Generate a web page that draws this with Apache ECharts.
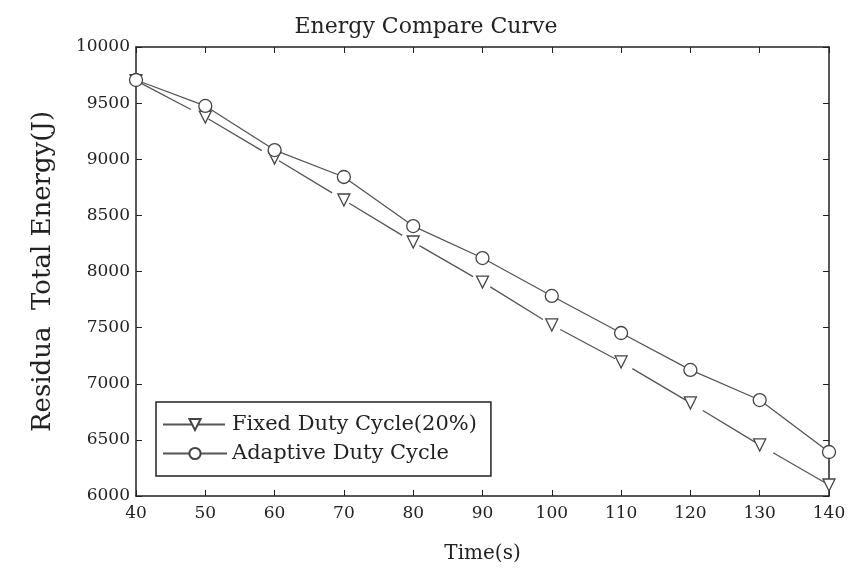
<!DOCTYPE html>
<html>
<head>
<meta charset="utf-8">
<script src="https://cdn.jsdelivr.net/npm/echarts@6/dist/echarts.min.js"></script>
<style>
  html, body { margin: 0; padding: 0; background: #fff; }
  #main { width: 852px; height: 571px; }
</style>
</head>
<body>
<div id="main"></div>
<script>
var times = [40, 50, 60, 70, 80, 90, 100, 110, 120, 130, 140];
var fixedDuty = [9700, 9376, 9010, 8637, 8263, 7906, 7524, 7194, 6829, 6455, 6098];
var adaptiveDuty = [9706, 9475, 9082, 8842, 8405, 8120, 7782, 7452, 7123, 6855, 6392];

var serif = '"DejaVu Serif", "Liberation Serif", serif';
var axisColor = '#222';

function pairs(xs, ys) {
  return xs.map(function (x, i) { return [x, ys[i]]; });
}

var chart = echarts.init(document.getElementById('main'), null, { renderer: 'canvas' });

var option = {
  backgroundColor: '#ffffff',
  animation: false,
  title: {
    text: 'Energy Compare Curve',
    left: 'center',
    top: 11,
    textStyle: { fontFamily: serif, fontSize: 22, fontWeight: 'normal', color: '#222' }
  },
  grid: { left: 136, right: 23, top: 47, bottom: 75 },
  legend: {
    orient: 'vertical',
    left: 156,
    top: 402,
    padding: [12, 14, 12, 6],
    itemGap: 8,
    itemWidth: 64,
    itemHeight: 14,
    borderColor: '#222',
    borderWidth: 1.5,
    backgroundColor: '#fff',
    textStyle: { fontFamily: serif, fontSize: 21, color: '#222' },
    data: ['Fixed Duty Cycle(20%)', 'Adaptive Duty Cycle']
  },
  xAxis: [
    {
      type: 'value', min: 40, max: 140, interval: 10,
      name: 'Time(s)', nameLocation: 'middle', nameGap: 48,
      nameTextStyle: { fontFamily: serif, fontSize: 20, color: '#222' },
      axisLine: { show: true, onZero: false, lineStyle: { color: axisColor, width: 1.5 } },
      axisTick: { inside: true, length: 6, lineStyle: { color: axisColor } },
      axisLabel: { fontFamily: serif, fontSize: 17, color: '#222', margin: 9 },
      splitLine: { show: false }
    },
    {
      type: 'value', min: 40, max: 140, interval: 10, position: 'top',
      axisLine: { show: true, onZero: false, lineStyle: { color: axisColor, width: 1.5 } },
      axisTick: { inside: true, length: 6, lineStyle: { color: axisColor } },
      axisLabel: { show: false },
      splitLine: { show: false }
    }
  ],
  yAxis: [
    {
      type: 'value', min: 6000, max: 10000, interval: 500,
      name: 'Residua  Total Energy(J)', nameLocation: 'middle', nameGap: 80,
      nameTextStyle: { fontFamily: serif, fontSize: 26, color: '#222' },
      axisLine: { show: true, onZero: false, lineStyle: { color: axisColor, width: 1.5 } },
      axisTick: { inside: true, length: 6, lineStyle: { color: axisColor } },
      axisLabel: {
        fontFamily: serif, fontSize: 17, color: '#222', margin: 6,
        formatter: function (v) { return String(v); }
      },
      splitLine: { show: false }
    },
    {
      type: 'value', min: 6000, max: 10000, interval: 500, position: 'right',
      axisLine: { show: true, onZero: false, lineStyle: { color: axisColor, width: 1.5 } },
      axisTick: { inside: true, length: 6, lineStyle: { color: axisColor } },
      axisLabel: { show: false },
      splitLine: { show: false }
    }
  ],
  series: [
    {
      name: 'Fixed Duty Cycle(20%)',
      type: 'line',
      data: pairs(times, fixedDuty),
      symbol: 'triangle',
      symbolRotate: 180,
      symbolSize: 12,
      lineStyle: { color: '#555', width: 1.3, type: [62, 20] },
      itemStyle: { color: '#fff', borderColor: '#444', borderWidth: 1.3 }
    },
    {
      name: 'Adaptive Duty Cycle',
      type: 'line',
      data: pairs(times, adaptiveDuty),
      symbol: 'circle',
      symbolSize: 13,
      lineStyle: { color: '#555', width: 1.3 },
      itemStyle: { color: '#fff', borderColor: '#444', borderWidth: 1.3 }
    }
  ]
};

chart.setOption(option);
</script>
</body>
</html>
